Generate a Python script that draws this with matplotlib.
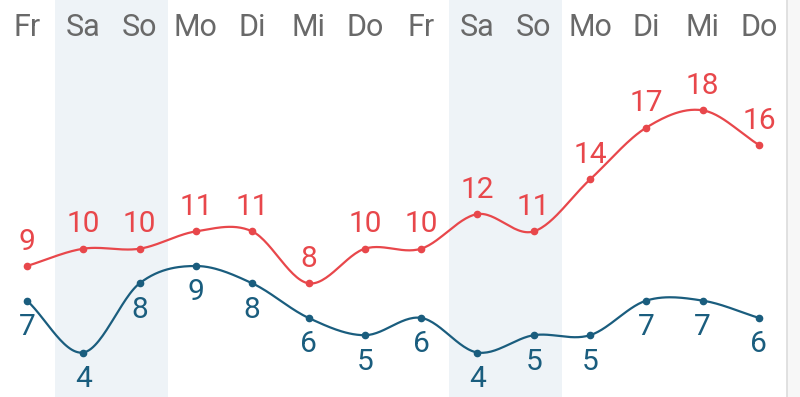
import numpy as np
import matplotlib.pyplot as plt

plt.rcParams['font.family'] = ['Roboto', 'DejaVu Sans']

days = ["Fr", "Sa", "So", "Mo", "Di", "Mi", "Do", "Fr", "Sa", "So", "Mo", "Di", "Mi", "Do"]
t_max = [9, 10, 10, 11, 11, 8, 10, 10, 12, 11, 14, 17, 18, 16]
t_min = [7, 4, 8, 9, 8, 6, 5, 6, 4, 5, 5, 7, 7, 6]
weekend = ["Sa", "So"]

red = "#e8474b"
blue = "#1a5d7e"


def catmull_rom(y, n=30):
    # smooth curve through the points, uniform x spacing
    y = np.asarray(y, dtype=float)
    m = np.zeros_like(y)
    m[1:-1] = (y[2:] - y[:-2]) / 2
    m[0] = y[1] - y[0]
    m[-1] = y[-1] - y[-2]
    xs, ys = [], []
    t = np.linspace(0, 1, n)
    h00 = 2 * t**3 - 3 * t**2 + 1
    h10 = t**3 - 2 * t**2 + t
    h01 = -2 * t**3 + 3 * t**2
    h11 = t**3 - t**2
    for i in range(len(y) - 1):
        xs.append(i + t)
        ys.append(h00 * y[i] + h10 * m[i] + h01 * y[i + 1] + h11 * m[i + 1])
    return np.concatenate(xs), np.concatenate(ys)


fig = plt.figure(figsize=(8, 3.97), dpi=100)
ax = fig.add_axes([0, 0, 1, 1])

x = np.arange(len(days))
ax.set_xlim(-0.48, 13.73)
ax.set_ylim(9 - 131 / 17.3, 9 + 266 / 17.3)

for i, d in enumerate(days):
    if d in weekend:
        ax.axvspan(i - 0.5, i + 0.5, color="#eef3f7", lw=0, zorder=0)
ax.axvspan(13.5, 14, color="#f7f7f7", lw=0, zorder=0)
ax.axvline(13.5, color="#dcdcdc", lw=1.2, zorder=1)

for xs, ys, c in [(*catmull_rom(t_max), red), (*catmull_rom(t_min), blue)]:
    ax.plot(xs, ys, color=c, lw=1.6, zorder=3, solid_capstyle="round")

ax.plot(x, t_max, "o", color=red, ms=4.5, zorder=4)
ax.plot(x, t_min, "o", color=blue, ms=4.5, zorder=4)

for i in range(len(days)):
    ax.annotate(str(t_max[i]), (x[i], t_max[i]), xytext=(0, 17.5), textcoords="offset points",
                ha="center", va="center", fontsize=21.5, color=red)
    ax.annotate(str(t_min[i]), (x[i], t_min[i]), xytext=(0, -19), textcoords="offset points",
                ha="center", va="center", fontsize=21.5, color=blue)
    ax.text(x[i], 1 - 28 / 397, days[i], transform=ax.get_xaxis_transform(),
            ha="center", va="center", fontsize=22, color="#696969")

ax.axis("off")
fig.savefig("out.png", dpi=100)
